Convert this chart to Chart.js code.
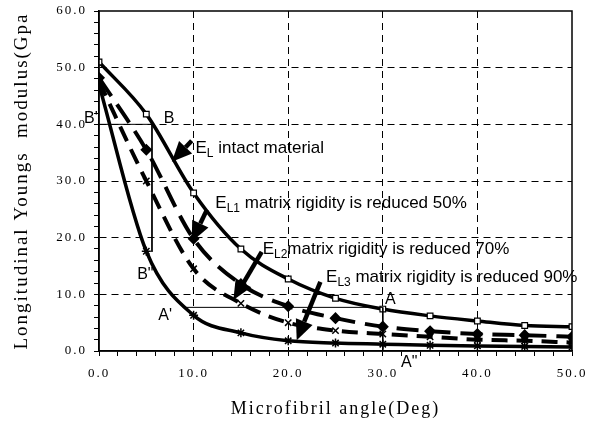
<!DOCTYPE html>
<html>
<head>
<meta charset="utf-8">
<script src="https://cdn.jsdelivr.net/npm/chart.js@4/dist/chart.umd.min.js"></script>
<style>
  html, body { margin: 0; padding: 0; background: #fff; }
  #wrap { width: 591px; height: 423px; }
</style>
</head>
<body>
<div id="wrap"><canvas id="graphique" width="591" height="423"></canvas></div>
<script>
// Angles des microfibrilles (degrés)
const angles = [0, 5, 10, 15, 20, 25, 30, 35, 40, 45, 50];

// Module d'Young longitudinal (GPa) pour chaque cas
const moduleIntact = [51.0, 41.8, 27.9, 18.0, 12.7, 9.3, 7.4, 6.2, 5.3, 4.5, 4.3];
const moduleL1 = [48.2, 35.5, 19.8, 11.8, 7.9, 5.8, 4.3, 3.5, 3.0, 2.8, 2.5];
const moduleL2 = [47.6, 30.0, 14.5, 8.4, 5.0, 3.6, 3.0, 2.5, 2.0, 1.8, 1.5];
const moduleL3 = [47.0, 17.6, 6.3, 3.2, 1.8, 1.4, 1.2, 1.0, 0.9, 0.8, 0.7];

// Lignes de construction B'-B-B'' et A'-A-A''
const ligneBx = [0, 5.6, 5.6];
const ligneBy = [40.0, 40.0, 17.5];
const ligneAx = [9.0, 30.0, 30.0];
const ligneAy = [7.7, 7.7, 0];

// Graduations des axes
const xMin = 0, xMax = 50, yMin = 0, yMax = 60;
const pasMajeur = 10, pasMineur = 2;

function points(xs, ys) {
    return xs.map((x, i) => ({ x: x, y: ys[i] }));
}

const police = '"Liberation Sans", Arial, sans-serif';
const policeSerif = '"Liberation Serif", "Times New Roman", serif';

// Texte des axes un peu espacé, comme dans l'original
const espacement = {
    id: 'espacement',
    beforeDraw(chart) {
        chart.ctx.letterSpacing = '2px';
    },
    afterDraw(chart) {
        chart.ctx.letterSpacing = '0px';
    }
};

// Cadre autour de la zone du graphique
const cadre = {
    id: 'cadre',
    afterDatasetsDraw(chart) {
        const a = chart.chartArea;
        const ctx = chart.ctx;
        ctx.save();
        ctx.setLineDash([]);
        ctx.strokeStyle = '#000';
        ctx.lineWidth = 1.5;
        ctx.strokeRect(a.left, a.top, a.right - a.left, a.bottom - a.top);
        ctx.restore();
    }
};

// Flèches et étiquettes
const etiquettes = [
    { x: 10.2, y: 35.0, base: 'E', sub: 'L', reste: ' intact material' },
    { x: 12.3, y: 25.2, base: 'E', sub: 'L1', reste: ' matrix rigidity is reduced 50%' },
    { x: 17.3, y: 17.2, base: 'E', sub: 'L2', reste: 'matrix rigidity is reduced 70%' },
    { x: 24.0, y: 12.1, base: 'E', sub: 'L3', reste: ' matrix rigidity is reduced 90%' }
];
const fleches = [
    { x1: 9.8, y1: 37.1, x2: 7.7, y2: 33.4 },
    { x1: 11.4, y1: 24.9, x2: 9.8, y2: 19.3 },
    { x1: 17.2, y1: 17.5, x2: 14.2, y2: 9.0 },
    { x1: 23.4, y1: 12.2, x2: 20.9, y2: 1.9 }
];
const lettres = [
    { x: -0.85, y: 41.0, t: "B'" },
    { x: 7.4, y: 41.0, t: 'B' },
    { x: 4.9, y: 13.5, t: 'B"' },
    { x: 7.0, y: 6.2, t: "A'" },
    { x: 30.8, y: 9.0, t: 'A' },
    { x: 32.8, y: -2.1, t: 'A"' }
];

const annotations = {
    id: 'annotations',
    afterDatasetsDraw(chart) {
        const ctx = chart.ctx;
        const sx = chart.scales.x, sy = chart.scales.y;
        ctx.save();
        ctx.letterSpacing = '0px';
        ctx.setLineDash([]);
        ctx.fillStyle = '#000';
        ctx.strokeStyle = '#000';

        fleches.forEach(f => {
            const x1 = sx.getPixelForValue(f.x1), y1 = sy.getPixelForValue(f.y1);
            const x2 = sx.getPixelForValue(f.x2), y2 = sy.getPixelForValue(f.y2);
            const ang = Math.atan2(y2 - y1, x2 - x1);
            const tete = 20, larg = 9;
            const bx = x2 - tete * Math.cos(ang), by = y2 - tete * Math.sin(ang);
            ctx.lineWidth = 4.5;
            ctx.beginPath();
            ctx.moveTo(x1, y1);
            ctx.lineTo(bx, by);
            ctx.stroke();
            ctx.beginPath();
            ctx.moveTo(x2, y2);
            ctx.lineTo(bx + larg * Math.sin(ang), by - larg * Math.cos(ang));
            ctx.lineTo(bx - larg * Math.sin(ang), by + larg * Math.cos(ang));
            ctx.closePath();
            ctx.fill();
        });

        ctx.textBaseline = 'alphabetic';
        ctx.textAlign = 'left';
        etiquettes.forEach(e => {
            let px = sx.getPixelForValue(e.x);
            const py = sy.getPixelForValue(e.y);
            ctx.font = '17px ' + police;
            ctx.fillText(e.base, px, py);
            px += ctx.measureText(e.base).width;
            ctx.font = '12px ' + police;
            ctx.fillText(e.sub, px, py + 4);
            px += ctx.measureText(e.sub).width;
            ctx.font = '17px ' + police;
            ctx.fillText(e.reste, px, py);
        });

        ctx.textAlign = 'center';
        ctx.textBaseline = 'middle';
        ctx.font = '16px ' + police;
        lettres.forEach(l => {
            ctx.fillText(l.t, sx.getPixelForValue(l.x), sy.getPixelForValue(l.y));
        });
        ctx.restore();
    }
};

function estMajeur(v) {
    return Math.abs(v % pasMajeur) < 1e-6;
}

new Chart(document.getElementById('graphique'), {
    type: 'scatter',
    data: {
        datasets: [
            {
                label: 'B',
                data: points(ligneBx, ligneBy),
                showLine: true,
                borderColor: '#000',
                borderWidth: 1,
                pointRadius: 0,
                tension: 0
            },
            {
                label: 'A',
                data: points(ligneAx, ligneAy),
                showLine: true,
                borderColor: '#000',
                borderWidth: 1,
                pointRadius: 0,
                tension: 0
            },
            {
                label: 'EL intact material',
                data: points(angles, moduleIntact),
                showLine: true,
                borderColor: '#000',
                borderWidth: 3.5,
                cubicInterpolationMode: 'monotone',
                pointStyle: 'rect',
                pointRadius: 4,
                pointBackgroundColor: '#fff',
                pointBorderColor: '#000',
                pointBorderWidth: 1.2
            },
            {
                label: 'EL1',
                data: points(angles, moduleL1),
                showLine: true,
                borderColor: '#000',
                borderWidth: 4,
                borderDash: [22, 10],
                cubicInterpolationMode: 'monotone',
                pointStyle: 'rectRot',
                pointRadius: 3.2,
                pointBackgroundColor: '#000',
                pointBorderColor: '#000'
            },
            {
                label: 'EL2',
                data: points(angles, moduleL2),
                showLine: true,
                borderColor: '#000',
                borderWidth: 4,
                borderDash: [16, 9],
                cubicInterpolationMode: 'monotone',
                pointStyle: 'crossRot',
                pointRadius: 4.5,
                pointBorderColor: '#000',
                pointBorderWidth: 1.5
            },
            {
                label: 'EL3',
                data: points(angles, moduleL3),
                showLine: true,
                borderColor: '#000',
                borderWidth: 3.5,
                cubicInterpolationMode: 'monotone',
                pointStyle: 'star',
                pointRadius: 4.5,
                pointBorderColor: '#000',
                pointBorderWidth: 1.5
            }
        ]
    },
    options: {
        responsive: false,
        animation: false,
        layout: { padding: { left: 0, right: 19, top: 11, bottom: 0 } },
        plugins: {
            legend: { display: false },
            tooltip: { enabled: false }
        },
        scales: {
            x: {
                type: 'linear',
                min: xMin,
                max: xMax,
                afterFit: s => { s.height = 72; s.paddingLeft = 0; s.paddingRight = 0; },
                ticks: {
                    stepSize: pasMineur,
                    autoSkip: false,
                    maxRotation: 0,
                    padding: 10,
                    color: '#000',
                    font: { family: policeSerif, size: 13 },
                    callback: v => estMajeur(v) ? v.toFixed(1) : ''
                },
                grid: {
                    color: c => (estMajeur(c.tick.value) && c.tick.value > xMin && c.tick.value < xMax) ? '#000' : 'rgba(0,0,0,0)',
                    lineWidth: 1,
                    tickColor: '#000',
                    tickLength: 5
                },
                border: { display: true, color: '#000', width: 1.5, dash: [7, 5] },
                title: {
                    display: true,
                    text: 'Microfibril angle(Deg)',
                    color: '#000',
                    font: { family: policeSerif, size: 18 },
                    padding: { top: 0, bottom: 3 }
                }
            },
            y: {
                type: 'linear',
                min: yMin,
                max: yMax,
                afterFit: s => { s.width = 99; s.paddingTop = 0; s.paddingBottom = 0; },
                ticks: {
                    stepSize: pasMineur,
                    autoSkip: false,
                    padding: 7,
                    color: '#000',
                    font: { family: policeSerif, size: 13 },
                    callback: v => estMajeur(v) ? v.toFixed(1) : ''
                },
                grid: {
                    color: c => (estMajeur(c.tick.value) && c.tick.value > yMin && c.tick.value < yMax) ? '#000' : 'rgba(0,0,0,0)',
                    lineWidth: 1,
                    tickColor: '#000',
                    tickLength: 5
                },
                border: { display: true, color: '#000', width: 1.5, dash: [7, 5] },
                title: {
                    display: true,
                    text: 'Longitudinal Youngs  modulus(Gpa',
                    color: '#000',
                    font: { family: policeSerif, size: 19 },
                    padding: { top: 11, bottom: 0 }
                }
            }
        }
    },
    plugins: [espacement, cadre, annotations]
});
</script>
</body>
</html>
